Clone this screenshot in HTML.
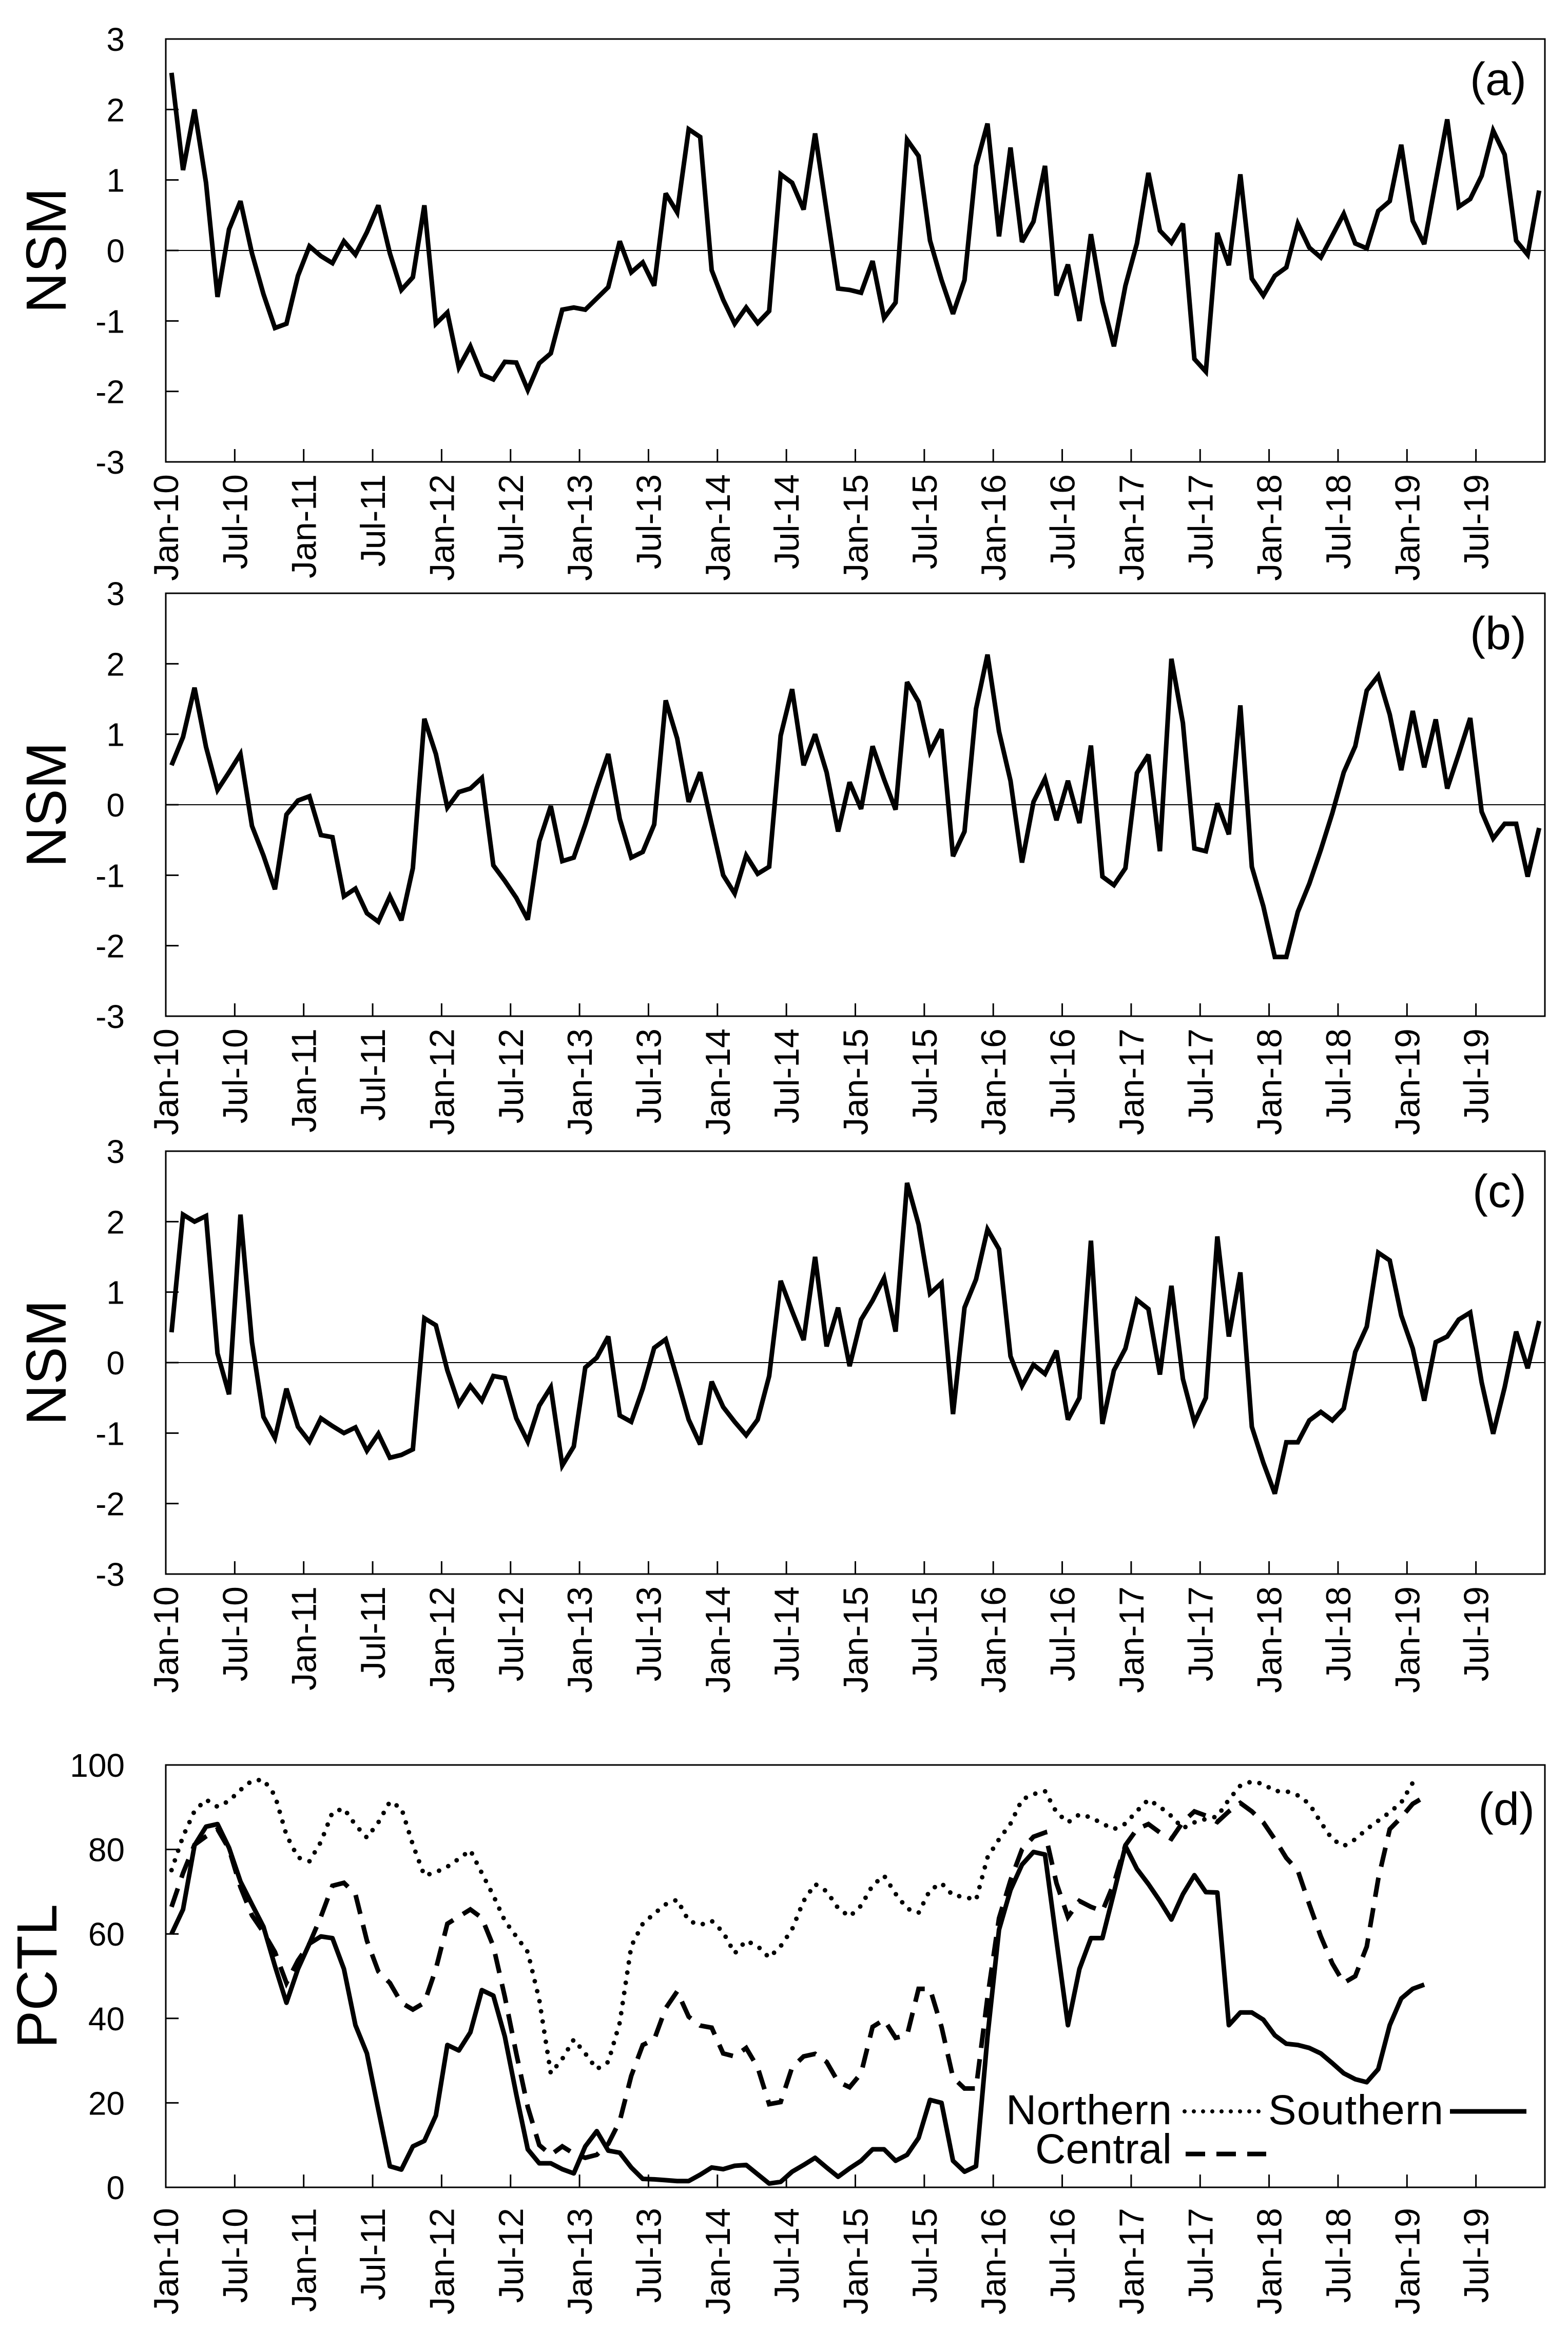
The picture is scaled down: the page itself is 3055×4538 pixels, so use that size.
<!DOCTYPE html>
<html><head><meta charset="utf-8">
<style>
html,body{margin:0;padding:0;background:#fff;}
svg{display:block;font-family:"Liberation Sans",Arial,sans-serif;}
</style></head>
<body>
<svg id="chart" width="3055" height="4538" viewBox="0 0 3055 4538" xmlns="http://www.w3.org/2000/svg"></svg>
<script>
// ---- data ----
const xTickLabels = ["Jan-10","Jul-10","Jan-11","Jul-11","Jan-12","Jul-12","Jan-13","Jul-13","Jan-14","Jul-14","Jan-15","Jul-15","Jan-16","Jul-16","Jan-17","Jul-17","Jan-18","Jul-18","Jan-19","Jul-19"];
const nsmTicks = [-3,-2,-1,0,1,2,3];
const pctlTicks = [0,20,40,60,80,100];
const nsmA = [2.52,1.14,2.0,0.96,-0.66,0.3,0.7,-0.04,-0.62,-1.1,-1.04,-0.36,0.06,-0.08,-0.18,0.13,-0.06,0.26,0.64,-0.04,-0.56,-0.38,0.64,-1.04,-0.88,-1.66,-1.36,-1.76,-1.83,-1.58,-1.59,-1.98,-1.6,-1.46,-0.84,-0.81,-0.84,-0.68,-0.52,0.13,-0.31,-0.17,-0.5,0.81,0.54,1.72,1.61,-0.28,-0.7,-1.04,-0.81,-1.03,-0.86,1.08,0.96,0.58,1.66,0.56,-0.54,-0.56,-0.6,-0.15,-0.96,-0.74,1.57,1.34,0.14,-0.42,-0.9,-0.42,1.2,1.8,0.2,1.46,0.12,0.41,1.2,-0.64,-0.2,-1.0,0.23,-0.72,-1.36,-0.5,0.1,1.1,0.28,0.11,0.38,-1.54,-1.72,0.25,-0.21,1.08,-0.4,-0.64,-0.36,-0.24,0.38,0.04,-0.1,0.21,0.52,0.1,0.03,0.56,0.7,1.5,0.42,0.09,0.98,1.86,0.62,0.73,1.06,1.7,1.36,0.14,-0.06,0.85];
const nsmB = [0.56,0.96,1.66,0.82,0.21,0.46,0.72,-0.3,-0.72,-1.2,-0.14,0.06,0.12,-0.43,-0.46,-1.3,-1.19,-1.54,-1.66,-1.3,-1.64,-0.9,1.22,0.72,-0.04,0.18,0.23,0.38,-0.86,-1.08,-1.32,-1.63,-0.52,-0.02,-0.8,-0.75,-0.28,0.24,0.72,-0.2,-0.75,-0.67,-0.28,1.48,0.94,0.04,0.46,-0.28,-1.0,-1.26,-0.72,-0.98,-0.88,0.98,1.64,0.56,1.0,0.46,-0.38,0.32,-0.06,0.83,0.36,-0.07,1.74,1.46,0.75,1.07,-0.73,-0.38,1.36,2.13,1.04,0.34,-0.82,0.04,0.37,-0.22,0.34,-0.26,0.84,-1.02,-1.14,-0.9,0.45,0.71,-0.66,2.07,1.16,-0.62,-0.66,0.02,-0.42,1.41,-0.88,-1.44,-2.16,-2.16,-1.52,-1.12,-0.64,-0.12,0.46,0.83,1.62,1.83,1.28,0.49,1.33,0.53,1.21,0.23,0.72,1.23,-0.1,-0.48,-0.27,-0.27,-1.02,-0.33];
const nsmC = [0.43,2.1,2.0,2.08,0.13,-0.45,2.1,0.29,-0.77,-1.07,-0.37,-0.91,-1.12,-0.79,-0.9,-1.0,-0.92,-1.25,-1.01,-1.35,-1.31,-1.23,0.63,0.53,-0.11,-0.59,-0.33,-0.54,-0.19,-0.22,-0.79,-1.12,-0.61,-0.35,-1.46,-1.19,-0.07,0.07,0.37,-0.75,-0.84,-0.37,0.21,0.33,-0.23,-0.81,-1.16,-0.27,-0.63,-0.84,-1.03,-0.81,-0.19,1.16,0.73,0.32,1.5,0.23,0.78,-0.05,0.61,0.88,1.2,0.44,2.55,1.96,0.98,1.13,-0.73,0.78,1.18,1.89,1.61,0.09,-0.33,-0.03,-0.16,0.17,-0.81,-0.5,1.73,-0.87,-0.11,0.2,0.89,0.76,-0.17,1.09,-0.23,-0.85,-0.5,1.79,0.37,1.28,-0.91,-1.42,-1.86,-1.13,-1.13,-0.82,-0.7,-0.82,-0.65,0.15,0.51,1.56,1.45,0.67,0.2,-0.54,0.29,0.37,0.61,0.71,-0.28,-1.01,-0.35,0.44,-0.08,0.59];
const pctlNorthern = [75.1,83.1,89.1,91.8,90.1,91.5,94.1,96.3,96.5,92.8,83.4,78.1,77.2,81.8,88.8,89.7,85.8,82.8,86.4,91.3,89.8,81.1,73.8,74.6,75.9,77.8,79.8,74.4,69.1,63.1,59.4,55.7,44.4,27,30.4,35,31.7,28,29.7,39,57.1,62.4,64.8,67,68.1,63.1,62.1,63.1,60.4,55.4,58.4,57.1,54.4,57.1,61.1,67.8,71.8,70.1,66.1,64.1,66.7,71.5,73.8,69.5,66,65,70.4,72,69.1,68.8,68,78.1,82.4,86.1,91.8,93.1,93.8,88.8,86.4,88.3,87.6,86.1,84.8,86.1,89.1,91.8,90.1,87.9,85,86.4,87.2,87.8,91.8,95.1,96.1,95.5,93.8,93.8,92.8,90.8,86.4,82.4,80.8,82.4,84.8,86.8,88.8,91.1,95.8];
const pctlCentral = [66.4,74.4,81.1,83.1,84.8,80.1,71.1,64.4,60.4,55.7,48.4,53.7,57.7,64.1,71.4,72.1,69.4,58.4,51.1,48.4,43.7,42.1,43.7,51.7,62.4,64.1,65.8,63.8,57.1,45.1,31.7,19,10,7.7,9.7,8,7,7.7,10.3,15.7,26.4,33.7,35,42.4,46.4,40.4,38.3,37.8,31.7,31,33,28.4,19.7,20.2,28.4,31,31.6,29.7,25,23.7,27,38,39.7,35.4,36,47,47,38,26,23.4,23.4,45,63.7,72.7,80,83,84,72,64,67.8,66.4,65.4,72,81,84.8,86,84,82.5,86.5,89,88,86.5,89,91,89,86.4,82.4,78,75,67,59.4,53,48.4,50,57,73,84.8,87.6,90.8,92.4];
const pctlSouthern = [60,65.8,81,85.4,86,80.4,72.4,67,61.7,52.4,43.7,51.7,57.7,59.4,59,51.7,38.4,31.7,18.3,5,4.2,9.7,11,17,33.7,32.4,36.7,46.7,45.4,35.7,22,9,5.7,5.7,4.3,3.3,9.7,13.3,8.7,8.2,4.7,2,1.9,1.7,1.5,1.5,3,4.7,4.3,5.1,5.3,3.1,0.9,1.3,3.7,5.3,7,4.7,2.5,4.5,6.3,9,9,6.3,7.7,11.7,20.7,20,6.3,3.7,5,35.7,61,70.4,76.4,79.4,78.8,58.4,38.4,51.7,59,59,69.8,80.8,75.4,71.8,67.8,63.4,69.4,73.9,69.9,69.8,38.4,41.4,41.4,39.7,36,34,33.7,33,31.7,29.4,27,25.6,24.9,28,38.4,44.7,47,48];

// ---- layout ----
const NS = "http://www.w3.org/2000/svg";
const svg = document.getElementById("chart");
const X0 = 323, X1 = 3010, NMONTHS = 120;
const panels = [
  {key:"a", top:76, bottom:900, series:[nsmA], labelY:185},
  {key:"b", top:1156, bottom:1980, series:[nsmB], labelY:1265},
  {key:"c", top:2243, bottom:3067, series:[nsmC], labelY:2352}
];
function mk(tag, attrs, parent){ const e=document.createElementNS(NS,tag); for(const k in attrs) e.setAttribute(k,attrs[k]); (parent||svg).appendChild(e); return e; }
function xPos(i){ return X0 + (i+0.5)*(X1-X0)/NMONTHS; }
function xBound(m){ return X0 + m*(X1-X0)/NMONTHS; }

function drawFrame(g, top, bottom, yTicks, yMin, yMax, yTitle, labelGap){
  const yS = v => bottom - (v-yMin)/(yMax-yMin)*(bottom-top);
  const frame = mk("rect",{x:X0,y:top,width:X1-X0,height:bottom-top,fill:"none",stroke:"#000","stroke-width":3},g);
  
  
  yTicks.forEach(t=>{
    const y=yS(t);
    const tk=mk("line",{x1:X0,x2:X0+25,y1:y,y2:y,stroke:"#000","stroke-width":3},g);
    
    
    const tl=mk("text",{x:243,y:y+23,"text-anchor":"end","font-size":64,fill:"#000"},g);
    tl.textContent=String(t);
    
    
  });
  xTickLabels.forEach((lab,k)=>{
    const x=xBound(k*6);
    const tk=mk("line",{x1:x,x2:x,y1:bottom,y2:bottom-25,stroke:"#000","stroke-width":3},g);
    
    
    const tl=mk("text",{x:0,y:0,"text-anchor":"end","font-size":68,fill:"#000",transform:`translate(${x+24},${bottom+labelGap}) rotate(-90)`},g);
    tl.textContent=lab;
    
    
  });
  const cy=(top+bottom)/2;
  const tt=mk("text",{x:0,y:0,"text-anchor":"middle","font-size":110,fill:"#000",transform:`translate(${yTitle==="PCTL"?110:128},${cy}) rotate(-90)`},g);
  tt.textContent=yTitle;
  
  
  return yS;
}
function linePath(vals, yS){ return vals.map((v,i)=>(i?"L":"M")+xPos(i).toFixed(1)+" "+yS(v).toFixed(1)).join(" "); }

panels.forEach(p=>{
  const g=mk("g",{});
  
  
  const yS=drawFrame(g,p.top,p.bottom,nsmTicks,-3,3,"NSM",24);
  const z=mk("line",{x1:X0,x2:X1,y1:yS(0),y2:yS(0),stroke:"#000","stroke-width":2},g);
  
  
  const pl=mk("path",{d:linePath(p.series[0],yS),fill:"none",stroke:"#000","stroke-width":9,"stroke-linejoin":"miter","stroke-miterlimit":3},g);
  
  
  const lab=mk("text",{x:2974,y:p.labelY,"text-anchor":"end","font-size":90,fill:"#000"},g);
  lab.textContent="("+p.key+")";
  
  
});

// panel d
const gd=mk("g",{});


const ySd=drawFrame(gd,3439,4262,pctlTicks,0,100,"PCTL",40);
const sN=mk("path",{d:linePath(pctlNorthern,ySd),fill:"none",stroke:"#000","stroke-width":9,"stroke-linecap":"round","stroke-dasharray":"0 20"},gd);


const sC=mk("path",{d:linePath(pctlCentral,ySd),fill:"none",stroke:"#000","stroke-width":9,"stroke-dasharray":"38 22"},gd);


const sS=mk("path",{d:linePath(pctlSouthern,ySd),fill:"none",stroke:"#000","stroke-width":9,"stroke-linejoin":"round"},gd);


const dl=mk("text",{x:2990,y:3556,"text-anchor":"end","font-size":90,fill:"#000"},gd);
dl.textContent="(d)";



// legend
const lg=mk("g",{});


const t1=mk("text",{x:2283,y:4139,"text-anchor":"end","font-size":82,fill:"#000",textLength:323},lg);
t1.textContent="Northern";


const l1=mk("line",{x1:2308,x2:2454,y1:4114,y2:4114,stroke:"#000","stroke-width":8,"stroke-linecap":"round","stroke-dasharray":"0 18"},lg);


const t2=mk("text",{x:2471,y:4139,"font-size":82,fill:"#000",textLength:341},lg);
t2.textContent="Southern";


const l2=mk("line",{x1:2825,x2:2974,y1:4114,y2:4114,stroke:"#000","stroke-width":9},lg);


const t3=mk("text",{x:2283,y:4215,"text-anchor":"end","font-size":82,fill:"#000",textLength:266},lg);
t3.textContent="Central";


const l3=mk("line",{x1:2310,x2:2467,y1:4197,y2:4197,stroke:"#000","stroke-width":9,"stroke-dasharray":"38 22"},lg);


</script>
</body></html>
